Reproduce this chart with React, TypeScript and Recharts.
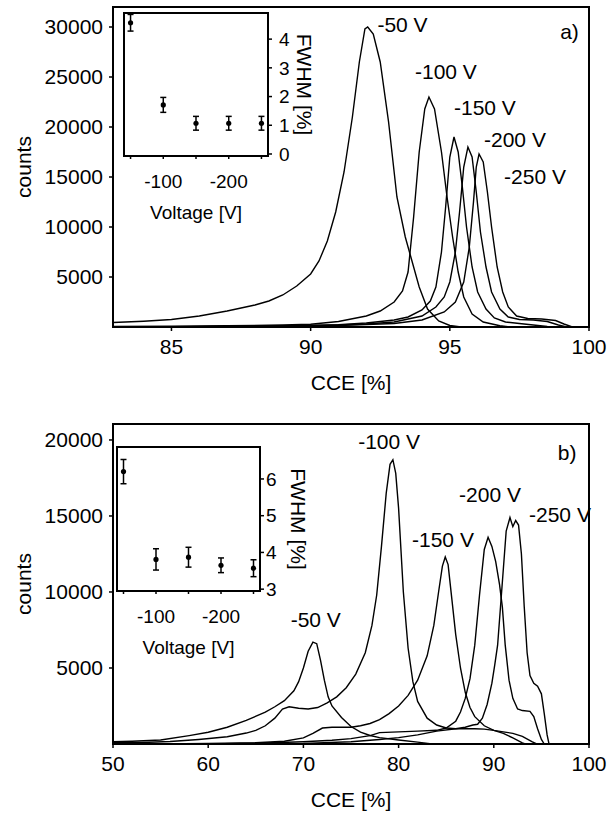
import React from 'react';
import {
  LineChart,
  Line,
  XAxis,
  YAxis,
  ReferenceArea,
  ReferenceDot,
  ScatterChart,
  Scatter,
  ErrorBar,
} from 'recharts';

const FONT = '"Liberation Sans", Arial, Helvetica, sans-serif';

type P = [number, number];

// ---------------- panel a) ----------------
const aDomainX: P = [82.9, 100];
const aDomainY: P = [0, 32000];
const aTicksX = [85, 90, 95, 100];
const aTicksY = [5000, 10000, 15000, 20000, 25000, 30000];

const aV50: P[] = [
  [82.9, 450], [84, 580], [85, 750], [86, 1100], [87, 1600], [88, 2200], [88.5, 2600],
  [89, 3200], [89.5, 4100], [90, 5300], [90.3, 6600], [90.6, 8600], [90.9, 11500],
  [91.2, 15500], [91.5, 21000], [91.75, 26500], [91.95, 29800], [92.05, 30000],
  [92.25, 29300], [92.5, 26500], [92.8, 20500], [93.1, 13000], [93.4, 9000],
  [93.6, 7000], [93.9, 4000], [94.2, 1800], [94.6, 600], [95.0, 150], [95.4, 0],
];
const aV100: P[] = [
  [82.9, 60], [85, 80], [87, 120], [89, 200], [90, 280], [91, 550], [92, 1100],
  [92.5, 1600], [93, 2500], [93.3, 3600], [93.5, 5500], [93.7, 11000], [93.9, 17500],
  [94.1, 21800], [94.25, 23000], [94.45, 21800], [94.7, 17500], [94.9, 13000],
  [95.1, 9000], [95.3, 5500], [95.5, 3000], [95.8, 1300], [96.2, 500], [96.8, 120], [97.2, 0],
];
const aV150: P[] = [
  [82.9, 0], [86, 40], [88, 90], [90, 150], [91, 240], [92, 400], [93, 700], [93.5, 1000],
  [94, 1700], [94.3, 2600], [94.5, 4000], [94.7, 7500], [94.85, 12000], [95.0, 17000],
  [95.15, 19000], [95.3, 17500], [95.45, 14000], [95.6, 10000], [95.8, 6000], [96.0, 3500],
  [96.3, 1800], [96.6, 900], [97.0, 500], [97.5, 350], [98.0, 200], [98.5, 50], [98.8, 0],
];
const aV200: P[] = [
  [82.9, 0], [87, 50], [89, 100], [91, 200], [92, 300], [93, 500], [94, 1100], [94.5, 2000],
  [94.8, 3000], [95.0, 4500], [95.2, 7500], [95.35, 11500], [95.5, 16000], [95.65, 18000],
  [95.8, 17000], [95.95, 13500], [96.1, 9500], [96.3, 6000], [96.5, 3500], [96.8, 1800],
  [97.1, 1000], [97.5, 750], [98.0, 700], [98.5, 550], [98.9, 200], [99.2, 0],
];
const aV250: P[] = [
  [82.9, 0], [88, 50], [91, 150], [93, 350], [94, 700], [94.8, 1500], [95.2, 2500],
  [95.5, 4500], [95.7, 8000], [95.85, 12500], [95.95, 16000], [96.05, 17300], [96.2, 16500],
  [96.35, 13500], [96.5, 10000], [96.7, 6000], [96.9, 3500], [97.1, 2000], [97.4, 1100],
  [97.8, 850], [98.3, 800], [98.8, 650], [99.1, 300], [99.4, 0],
];
const aSeries = [aV50, aV100, aV150, aV200, aV250];
const aLabelText = ['-50 V', '-100 V', '-150 V', '-200 V', '-250 V', 'a)'];
const aLabelX = [93.3, 94.86, 96.26, 97.34, 98.06, 99.3];
const aLabelY = [30200, 25500, 21900, 18700, 15000, 29500];

// ---------------- panel b) ----------------
const bDomainX: P = [50, 100];
const bDomainY: P = [0, 21050];
const bTicksX = [50, 60, 70, 80, 90, 100];
const bTicksY = [5000, 10000, 15000, 20000];

const bV50: P[] = [
  [50, 150], [52, 180], [55, 260], [58, 550], [60, 770], [62, 1100], [64, 1550], [66, 2100],
  [67, 2450], [68, 2850], [69, 3500], [69.5, 4100], [70, 5000], [70.5, 6100], [71, 6700],
  [71.4, 6600], [71.8, 5500], [72.2, 4200], [72.6, 3100], [73, 2500], [74, 1750], [75, 1150],
  [76, 780], [77, 560], [78, 420], [80, 260], [82, 120], [83.5, 0],
];
const bV100: P[] = [
  [50, 80], [53, 100], [56, 160], [59, 300], [62, 480], [64, 720], [65, 900], [66, 1200],
  [67, 1700], [67.8, 2300], [68.5, 2450], [69.5, 2350], [70.5, 2300], [71.5, 2400],
  [72.5, 2700], [73.5, 3100], [74.5, 3700], [75.5, 4600], [76.5, 6000], [77.2, 7800],
  [77.7, 9800], [78.2, 13000], [78.7, 16500], [79.1, 18400], [79.4, 18700], [79.7, 17800],
  [80.0, 15500], [80.5, 10000], [81.0, 6300], [81.5, 4100], [82, 2800], [83, 1700],
  [84, 1250], [85, 1050], [86, 1000], [87, 1000], [88, 1000], [89, 980], [90, 900],
  [91, 700], [92, 400], [93, 80], [93.3, 0],
];
const bV150: P[] = [
  [55, 0], [60, 30], [65, 80], [68, 180], [70, 400], [71, 700], [72, 1050], [73, 1100],
  [74, 1100], [75, 1100], [76, 1200], [77, 1350], [78, 1600], [79, 2000], [80, 2500],
  [81, 3200], [82, 4200], [83, 5800], [83.7, 7800], [84.2, 10000], [84.6, 11700],
  [84.9, 12300], [85.2, 11800], [85.6, 9500], [86, 7200], [86.5, 5000], [87, 3400],
  [87.5, 2400], [88, 1800], [89, 1200], [90, 900], [91, 800], [92, 700], [93, 500],
  [94, 150], [94.5, 0],
];
const bV200: P[] = [
  [60, 0], [65, 50], [70, 150], [73, 250], [75, 350], [77, 550], [78, 750], [80, 800],
  [82, 850], [84, 900], [85, 1050], [86, 1500], [86.5, 2100], [87, 3000], [87.5, 4300],
  [88, 6500], [88.5, 9800], [89, 12800], [89.4, 13600], [89.8, 13000], [90.2, 12000],
  [90.6, 10500], [90.9, 9000], [91.2, 6500], [91.6, 4200], [92, 3000], [92.5, 2300],
  [93, 2200], [93.8, 2150], [94.2, 1800], [94.6, 1000], [95, 300], [95.3, 0],
];
const bV250: P[] = [
  [65, 0], [70, 40], [75, 150], [78, 300], [80, 420], [82, 600], [84, 850], [86, 1000],
  [87, 1100], [87.8, 1250], [88.3, 1300], [88.8, 1700], [89.3, 2600], [89.8, 4000],
  [90.1, 5200], [90.4, 6500], [90.7, 9000], [91.0, 11500], [91.3, 14000], [91.7, 14900],
  [92.0, 14300], [92.3, 14700], [92.6, 14400], [92.9, 12500], [93.2, 9000], [93.5, 6000],
  [93.8, 4500], [94.2, 4000], [94.6, 3800], [95, 3300], [95.3, 2000], [95.6, 600], [95.8, 0],
];
const bSeries = [bV50, bV100, bV150, bV200, bV250];
const bLabelText = ['-100 V', '-200 V', '-250 V', '-150 V', '-50 V', 'b)'];
const bLabelX = [79.0, 89.6, 96.95, 84.66, 71.3, 97.7];
const bLabelY = [19870, 16380, 15070, 13420, 8160, 19200];

// ---------------- insets ----------------
const insetVolt = [-50, -100, -150, -200, -250];
const insetTicksX = [-50, -100, -150, -200, -250];
const insetLabelled = [-100, -200];
const insetDomainX: P = [-260, -40];
const aFwhm = [4.57, 1.71, 1.07, 1.07, 1.07];
const aErr = [0.29, 0.26, 0.24, 0.24, 0.24];
const aInsetDomainY: P = [-0.07, 4.91];
const aInsetTicksY = [0, 1, 2, 3, 4];
const bFwhm = [6.2, 3.81, 3.87, 3.65, 3.57];
const bErr = [0.33, 0.29, 0.27, 0.2, 0.23];
const bInsetDomainY: P = [2.95, 6.87];
const bInsetTicksY = [3, 4, 5, 6];

const toPts = (arr: P[]) => arr.map(([x, y]) => ({ x, y }));
const toInset = (f: number[], e: number[]) =>
  insetVolt.map((v, i) => ({ v, f: f[i], e: e[i] }));

const black = '#000';
const tickStyle = { fill: black, fontSize: 21, fontFamily: FONT };
const insetTickStyle = { fill: black, fontSize: 19, fontFamily: FONT };

type PanelProps = {
  top: number;
  height: number;
  marginTop: number;
  xAxisHeight: number;
  titleOffset: number;
  domainX: P;
  domainY: P;
  ticksX: number[];
  ticksY: number[];
  series: P[][];
  labelText: string[];
  labelX: number[];
  labelY: number[];
};

function Panel(p: PanelProps) {
  return (
    <div style={{ position: 'absolute', left: 0, top: p.top, width: 611, height: p.height }}>
      <LineChart
        width={611}
        height={p.height}
        margin={{ top: p.marginTop, right: 22, bottom: 0, left: 0 }}
      >
        <XAxis
          type="number"
          dataKey="x"
          domain={p.domainX}
          ticks={p.ticksX}
          interval={0}
          allowDataOverflow
          height={p.xAxisHeight}
          tick={tickStyle}
          tickSize={4}
          tickMargin={8}
          axisLine={{ stroke: black, strokeWidth: 2 }}
          tickLine={{ stroke: black, strokeWidth: 1.5 }}
          label={{
            value: 'CCE [%]',
            position: 'insideBottom',
            offset: p.titleOffset,
            fill: black,
            fontSize: 21,
            fontFamily: FONT,
          }}
        />
        <YAxis
          type="number"
          domain={p.domainY}
          ticks={p.ticksY}
          interval={0}
          allowDataOverflow
          width={113}
          tick={tickStyle}
          tickSize={4}
          tickMargin={6}
          axisLine={{ stroke: black, strokeWidth: 2 }}
          tickLine={{ stroke: black, strokeWidth: 1.5 }}
        />
        <ReferenceArea
          x1={p.domainX[0]}
          x2={p.domainX[1]}
          y1={p.domainY[0]}
          y2={p.domainY[1]}
          fill="none"
          stroke={black}
          strokeWidth={2}
        />
        {p.series.map((s, i) => (
          <Line
            key={i}
            data={toPts(s)}
            dataKey="y"
            type="linear"
            stroke={black}
            strokeWidth={1.4}
            dot={false}
            activeDot={false}
            isAnimationActive={false}
          />
        ))}
        {p.labelText.map((t, i) => (
          <ReferenceDot
            key={'l' + i}
            x={p.labelX[i]}
            y={p.labelY[i]}
            r={1}
            fill="none"
            stroke="none"
            label={{
              value: t,
              position: 'center',
              fill: black,
              fontSize: 21,
              fontFamily: FONT,
            }}
          />
        ))}
      </LineChart>
    </div>
  );
}

type InsetProps = {
  top: number;
  height: number;
  boxLeft: number;
  boxRight: number;
  boxTop: number;
  boxBottom: number;
  domainY: P;
  ticksY: number[];
  yTickMargin: number;
  data: { v: number; f: number; e: number }[];
};

const DotShape = (props: any) => (
  <circle cx={props.cx} cy={props.cy} r={2.6} fill={black} />
);

function Inset(p: InsetProps) {
  const yW = 50;
  const xH = 66;
  return (
    <div style={{ position: 'absolute', left: 0, top: p.top, width: 611, height: p.height }}>
      <ScatterChart
        width={611}
        height={p.height}
        margin={{
          top: p.boxTop,
          left: p.boxLeft,
          right: 611 - p.boxRight - yW,
          bottom: p.height - p.boxBottom - xH,
        }}
      >
        <XAxis
          type="number"
          dataKey="v"
          domain={insetDomainX}
          reversed
          ticks={insetTicksX}
          interval={0}
          allowDataOverflow
          tickFormatter={(v: number) => (insetLabelled.includes(v) ? String(v) : '')}
          height={xH}
          tick={insetTickStyle}
          tickSize={3}
          tickMargin={16}
          axisLine={false}
          tickLine={{ stroke: black, strokeWidth: 1.5 }}
          label={{
            value: 'Voltage [V]',
            position: 'insideBottom',
            offset: 3,
            fill: black,
            fontSize: 19,
            fontFamily: FONT,
          }}
        />
        <YAxis
          type="number"
          dataKey="f"
          orientation="right"
          domain={p.domainY}
          ticks={p.ticksY}
          interval={0}
          allowDataOverflow
          width={yW}
          tick={insetTickStyle}
          tickSize={4}
          tickMargin={p.yTickMargin}
          axisLine={false}
          tickLine={{ stroke: black, strokeWidth: 1.5 }}
        />
        <ReferenceArea
          x1={insetDomainX[0]}
          x2={insetDomainX[1]}
          y1={p.domainY[0]}
          y2={p.domainY[1]}
          fill="none"
          stroke={black}
          strokeWidth={2}
        />
        <Scatter data={p.data} shape={DotShape} isAnimationActive={false}>
          <ErrorBar
            dataKey="e"
            direction="y"
            width={3}
            stroke={black}
            strokeWidth={1.5}
            isAnimationActive={false}
          />
        </Scatter>
      </ScatterChart>
    </div>
  );
}

export default function App() {
  const titleStyle = { fontFamily: FONT, fontSize: 21, fill: black } as const;
  return (
    <div
      style={{
        position: 'absolute',
        left: 0,
        top: 0,
        width: 611,
        height: 813,
        background: '#fff',
        overflow: 'hidden',
      }}
    >
      <Panel
        top={0}
        height={400}
        marginTop={7}
        xAxisHeight={73}
        titleOffset={10}
        domainX={aDomainX}
        domainY={aDomainY}
        ticksX={aTicksX}
        ticksY={aTicksY}
        series={aSeries}
        labelText={aLabelText}
        labelX={aLabelX}
        labelY={aLabelY}
      />
      <Panel
        top={410}
        height={403}
        marginTop={14}
        xAxisHeight={69}
        titleOffset={6}
        domainX={bDomainX}
        domainY={bDomainY}
        ticksX={bTicksX}
        ticksY={bTicksY}
        series={bSeries}
        labelText={bLabelText}
        labelX={bLabelX}
        labelY={bLabelY}
      />
      <Inset
        top={0}
        height={400}
        boxLeft={124}
        boxRight={268}
        boxTop={13}
        boxBottom={156}
        domainY={aInsetDomainY}
        ticksY={aInsetTicksY}
        yTickMargin={7}
        data={toInset(aFwhm, aErr)}
      />
      <Inset
        top={410}
        height={403}
        boxLeft={117}
        boxRight={260}
        boxTop={37}
        boxBottom={181}
        domainY={bInsetDomainY}
        ticksY={bInsetTicksY}
        yTickMargin={2}
        data={toInset(bFwhm, bErr)}
      />
      <svg
        width={611}
        height={813}
        style={{ position: 'absolute', left: 0, top: 0, pointerEvents: 'none' }}
      >
        <text x={31} y={167} transform="rotate(-90 31 167)" textAnchor="middle" {...titleStyle}>
          counts
        </text>
        <text x={31} y={584} transform="rotate(-90 31 584)" textAnchor="middle" {...titleStyle}>
          counts
        </text>
        <text x={297} y={84.5} transform="rotate(90 297 84.5)" textAnchor="middle" {...titleStyle}>
          FWHM [%]
        </text>
        <text x={291} y={519} transform="rotate(90 291 519)" textAnchor="middle" {...titleStyle}>
          FWHM [%]
        </text>
      </svg>
    </div>
  );
}
